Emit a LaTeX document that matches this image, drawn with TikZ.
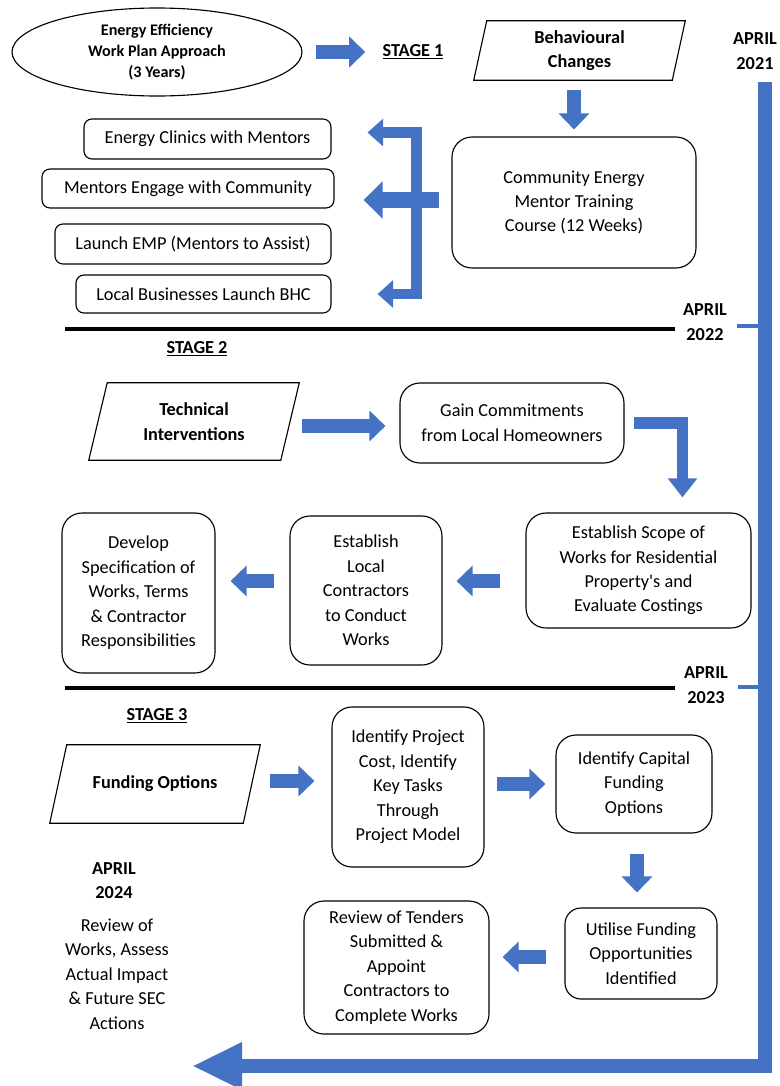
\documentclass[tikz,border=0pt]{standalone}
\usepackage{fontspec}
\setmainfont{Carlito}
\usepackage{tikz}
\usetikzlibrary{calc}
\usetikzlibrary{arrows.meta, shapes.geometric}

\definecolor{officeblue}{HTML}{4472C4}
\def\px{0.025cm}

\tikzset{
  wh/.style 2 args={minimum width=#1*\px, minimum height=#2*\px},
  txt/.style={font=\fontsize{13}{17.4}\selectfont, align=center, inner sep=0pt},
  boldtxt/.style={txt, font=\fontsize{13}{17.4}\selectfont\bfseries},
  frame/.style={line width=0.8pt},
  box/.style={txt, draw, frame, rounded corners=0.5cm},
  smallbox/.style={box, rounded corners=0.2cm},
  barrow/.style={officeblue, line width=10pt, -{Triangle[width=21.3pt, length=11.4pt]}},
  tick/.style={officeblue, line width=3.5pt},
  sepline/.style={black, line width=3pt}
}

\begin{document}
\begin{tikzpicture}[x=0.025cm, y=-0.025cm]

\fill[white] (0,0) rectangle (779,1086);
\useasboundingbox (0,0) rectangle (779,1086);

% -------------------------------------------------------
% 1. Stage 1: behavioural changes
% -------------------------------------------------------
\node[ellipse, draw, frame, wh={290}{88}, inner sep=0pt, align=center,
      font=\fontsize{11.5}{15}\selectfont\bfseries] (ell) at (157,52)
      {Energy Efficiency\\Work Plan Approach\\(3 Years)};
\node[boldtxt] (st1) at (413,52) {\underline{STAGE 1}};
\node[boldtxt, wh={198}{59}] (behav) at (579.5,50.5) {Behavioural\\Changes};
\node[box, wh={244}{131}] (comm) at (574,202.5)
      {Community Energy\\Mentor Training\\Course (12 Weeks)};

\node[smallbox, wh={247}{40}] (clin) at (207.5,139) {Energy Clinics with Mentors};
\node[smallbox, wh={292}{39}] (meng) at (188,188.5) {Mentors Engage with Community};
\node[smallbox, wh={276}{40}] (lemp) at (193,244) {Launch EMP (Mentors to Assist)};
\node[smallbox, wh={255}{38}] (lbus) at (203.5,294) {Local Businesses Launch BHC};

\node[boldtxt] (apr21) at (755,51) {APRIL\\2021};

% -------------------------------------------------------
% 2. Stage 2: technical interventions
% -------------------------------------------------------
\node[boldtxt] (apr22) at (705,322) {APRIL\\2022};
\node[boldtxt] (st2) at (197,349) {\underline{STAGE 2}};
\node[boldtxt, wh={191.5}{77}] (techn) at (194,421.5) {Technical\\Interventions};
\node[box, wh={224}{80}] (gain) at (512,423)
      {Gain Commitments\\from Local Homeowners};
\node[box, wh={225}{115}] (scope) at (638.5,570.5)
      {Establish Scope of\\Works for Residential\\Property\textquotesingle s and\\Evaluate Costings};
\node[box, wh={152}{149}] (estab) at (366,590.5)
      {Establish\\Local\\Contractors\\to Conduct\\Works};
\node[box, wh={153}{160}] (devel) at (138.5,593)
      {Develop\\Specification of\\Works, Terms\\\& Contractor\\Responsibilities};

% -------------------------------------------------------
% 3. Stage 3: funding options
% -------------------------------------------------------
\node[boldtxt] (apr23) at (706,685) {APRIL\\2023};
\node[boldtxt] (st3) at (157,716) {\underline{STAGE 3}};
\node[boldtxt, wh={193}{78}] (fund) at (155,784) {Funding Options};
\node[box, wh={152}{160}] (ident) at (408,787)
      {Identify Project\\Cost, Identify\\Key Tasks\\Through\\Project Model};
\node[box, wh={156}{98}] (capit) at (634,784)
      {Identify Capital\\Funding\\Options};
\node[box, wh={152}{91}, rounded corners=0.4cm] (utils) at (641,953.5)
      {Utilise Funding\\Opportunities\\Identified};
\node[box, wh={185}{133}] (revt) at (396.5,967.5)
      {Review of Tenders\\Submitted \&\\Appoint\\Contractors to\\Complete Works};

\node[boldtxt] (apr24) at (114,880.5) {APRIL\\2024};
\node[txt] (revw) at (117,974)
      {Review of\\Works, Assess\\Actual Impact\\\& Future SEC\\Actions};

% slanted frames round the input nodes
\foreach \n/\s in {behav/6.5, techn/9.25, fund/8.5} {
  \draw[frame] ([xshift=\s*\px]\n.north west) -- ([xshift=\s*\px]\n.north east)
    -- ([xshift=-\s*\px]\n.south east) -- ([xshift=-\s*\px]\n.south west) -- cycle;
}

% -------------------------------------------------------
% 4. Stage lines and timeline
% -------------------------------------------------------
\draw[sepline] (65,329) -- (675,329);
\draw[sepline] (65,688) -- (675,688);
\draw[tick] (737,326) -- (762,326);
\draw[tick] (738,687) -- (762,687);

\coordinate (tltop) at (765,82);
\coordinate (tlend) at (192,1066);
\draw[officeblue, line width=10pt, -{Triangle[width=31.3pt, length=35.6pt]}]
  (tltop) |- (tlend);

% -------------------------------------------------------
% 5. Block arrows
% -------------------------------------------------------
\draw[barrow] ([xshift=13*\px]ell.east) -- ([xshift=-17*\px]st1.west);
\draw[barrow] ([yshift=-10*\px]behav.south -| comm.north) -- ([yshift=7*\px]comm.north);

% branching arrows to the mentor tasks
\draw[officeblue, line width=7.8pt,
      {Triangle[width=19pt, length=11pt]}-{Triangle[width=19pt, length=11pt]}]
  ([xshift=36*\px, yshift=6.5*\px]clin.east) -- ++(48.5,0) |- ([xshift=46*\px]lbus.east);
\draw[officeblue, line width=12pt, -{Triangle[width=25.6pt, length=13.5pt]}]
  ([xshift=-12*\px, yshift=2.5*\px]comm.west) -- ([xshift=29*\px, yshift=2.5*\px]comm.west -| meng.east);

\draw[barrow] ([xshift=12*\px, yshift=-4.5*\px]techn.east)
  -- ([xshift=-14*\px, yshift=-4.5*\px]techn.east -| gain.west);
\draw[barrow, line width=8.5pt, -{Triangle[width=20pt, length=13.5pt]}]
  ([xshift=9*\px]gain.east) -| ([xshift=44*\px, yshift=15*\px]scope.north);
\draw[barrow] ([xshift=-25*\px, yshift=-10.5*\px]scope.west)
  -- ([xshift=14*\px, yshift=-10.5*\px]scope.west -| estab.east);
\draw[barrow] ([xshift=-15*\px, yshift=9.5*\px]estab.west)
  -- ([xshift=15*\px, yshift=9.5*\px]estab.west -| devel.east);

\draw[barrow] ([xshift=18.5*\px, yshift=3*\px]fund.east)
  -- ([xshift=-17*\px, yshift=3*\px]fund.east -| ident.west);
\draw[barrow] ([xshift=12*\px, yshift=3*\px]ident.east)
  -- ([xshift=-10*\px, yshift=3*\px]ident.east -| capit.west);
\draw[barrow] ([xshift=3*\px, yshift=-20*\px]capit.south)
  -- ([xshift=3*\px, yshift=15*\px]capit.south |- utils.north);
\draw[barrow] ([xshift=-18*\px, yshift=-3.5*\px]utils.west)
  -- ([xshift=13*\px, yshift=-3.5*\px]utils.west -| revt.east);

\end{tikzpicture}
\end{document}
